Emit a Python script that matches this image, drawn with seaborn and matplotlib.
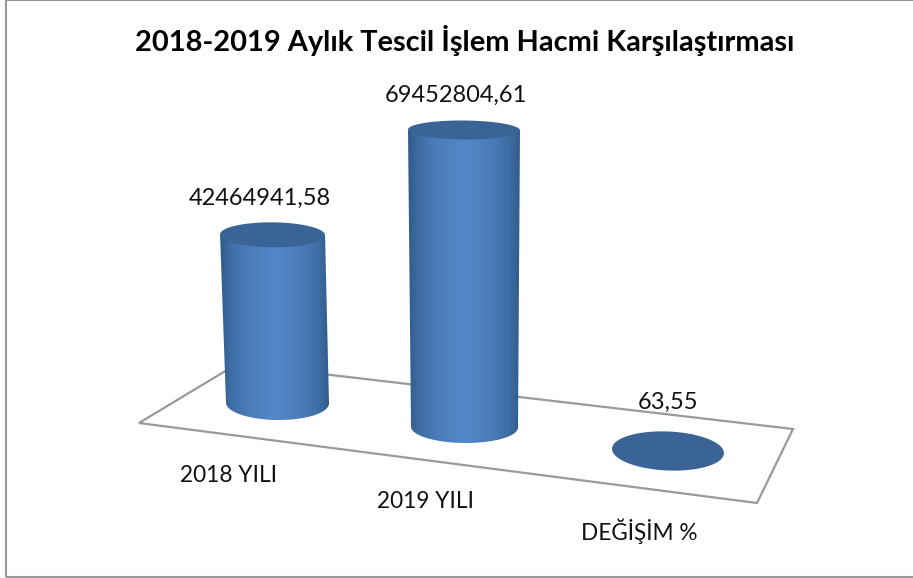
import numpy as np
import pandas as pd
import seaborn as sns
import matplotlib.pyplot as plt
from matplotlib.colors import LinearSegmentedColormap
from matplotlib.patches import Polygon, Rectangle

categories = ["2018 YILI", "2019 YILI", "DEĞİŞİM %"]
values = [42464941.58, 69452804.61, 63.55]
title = "2018-2019 Aylık Tescil İşlem Hacmi Karşılaştırması"

# perspective of the fake 3d floor, all in picture pixels
shift_x = [3.5, -4.5, 4]
base_y = [403, 427, 451]
depth_scale = [0.926, 1.0, 1.0]
lean = [-5, -0.5, 0]
bottom_rx = [51.5, 53.5, 56]
top_rx = [52.5, 56, 56]
bottom_ry = [17, 16, 19.5]
top_ry = [12.5, 9.5, 19.5]
tilt = [0.5, 0.5, 2.5]
floor = [(139, 423), (237, 364), (793, 429), (757, 503)]
label_xy = [(259.5, 198), (455.5, 95), (667.5, 402)]
cat_xy = [(229, 475), (425, 502), (639, 531)]

W, H = 913, 578
X0, STEP = 274, 195
BASE = 427
K = values[1] / 297  # units per pixel

sns.set_theme(style="white")
plt.rcParams['font.family'] = ['Lato', 'DejaVu Sans']

fig = plt.figure(figsize=(W / 100, H / 100), dpi=100)
ax = fig.add_axes([0, 0, 1, 1])
df = pd.DataFrame({"cat": categories, "val": values})
sns.barplot(data=df, x="cat", y="val", ax=ax, width=0.5, color="#3a6496")


def to_data(px, py):
    return (np.asarray(px) - X0) / STEP, (BASE - np.asarray(py)) * K


def ellipse_px(cx, cy, rx, ry, deg, start=0, end=2 * np.pi):
    t = np.linspace(start, end, 120)
    a = np.radians(deg)
    ex, ey = rx * np.cos(t), ry * np.sin(t)
    return cx + ex * np.cos(a) - ey * np.sin(a), cy + ex * np.sin(a) + ey * np.cos(a)


side = LinearSegmentedColormap.from_list("side", [
    (0, "#305b8b"), (0.10, "#3f6ea5"), (0.25, "#4a7cb9"), (0.5, "#5487c9"),
    (0.75, "#4a7cb9"), (0.90, "#3f6ea5"), (1, "#315d8e")])
grad = np.linspace(0, 1, 256).reshape(1, -1)

# floor
fx, fy = to_data(*zip(*floor))
ax.add_patch(Polygon(np.c_[fx, fy], closed=True, fill=False, ec="#9a9a9a", lw=1.6, zorder=1))

bars = list(ax.patches)[:3]
for i, p in enumerate(bars):
    p.set_visible(False)
    cx = X0 + (p.get_x() + p.get_width() / 2) * STEP + shift_x[i]
    by = base_y[i]
    high = p.get_height() * depth_scale[i] / K
    ty = by - high
    tx = cx + lean[i] * min(high / 100, 1.7) / 1.7
    if high > 1:
        lx, ly = ellipse_px(tx, ty, top_rx[i], 0, tilt[i], np.pi, np.pi)
        ax_, ay_ = ellipse_px(cx, by, bottom_rx[i], bottom_ry[i], tilt[i], np.pi, 0)
        rx_, ry_ = ellipse_px(tx, ty, top_rx[i], 0, tilt[i], 0, 0)
        px = np.r_[lx[:1], ax_, rx_[:1]]
        py = np.r_[ly[:1], ay_, ry_[:1]]
        dx, dy = to_data(px, py)
        body = Polygon(np.c_[dx, dy], closed=True, fc="none", ec="none", zorder=2)
        ax.add_patch(body)
        left, right = px.min(), px.max()
        x1, y1 = to_data(left, py.max())
        x2, y2 = to_data(right, py.min())
        im = ax.imshow(grad, cmap=side, extent=[x1, x2, y1, y2], aspect="auto", zorder=2,
                       interpolation="bilinear")
        im.set_clip_path(body)
    ex, ey = ellipse_px(tx, ty, top_rx[i], top_ry[i], tilt[i])
    dx, dy = to_data(ex, ey)
    ax.add_patch(Polygon(np.c_[dx, dy], closed=True, fc="#3a6496", ec="none", zorder=3))

for v, (x, y) in zip(values, label_xy):
    tx, ty = to_data(x, y)
    ax.text(tx, ty, f"{v:.2f}".replace(".", ","), ha="center", va="center",
            fontsize=17, color="#111111", zorder=5)
for c, (x, y) in zip(categories, cat_xy):
    tx, ty = to_data(x, y)
    ax.text(tx, ty, c, ha="center", va="center", fontsize=16.3, color="#111111", zorder=5)

tx, ty = to_data(465, 41)
ax.text(tx, ty, title, ha="center", va="center", fontsize=20.9, fontweight="bold",
        color="black", zorder=5)

# outer chart frame, its right side falls outside the picture
bx, by = to_data(5.5, 576.5)
bw, bh = 930 / STEP, 576 * K
ax.add_patch(Rectangle((bx, by), bw, bh, fill=False, ec="#999999", lw=1.5, zorder=6))

ax.set_xlim((0 - X0) / STEP, (W - X0) / STEP)
ax.set_ylim((BASE - H) * K, BASE * K)
ax.axis("off")
fig.savefig("out.png", dpi=100, facecolor="white")
